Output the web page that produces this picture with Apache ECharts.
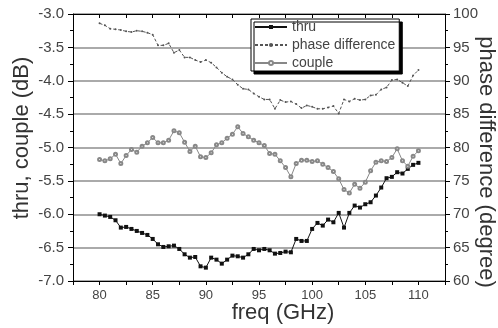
<!DOCTYPE html>
<html>
<head>
<meta charset="utf-8">
<script src="https://cdn.jsdelivr.net/npm/echarts@6/dist/echarts.min.js"></script>
<style>
html,body{margin:0;padding:0;background:#fff;}
#chart{width:498px;height:328px;}
</style>
</head>
<body>
<div id="chart"></div>
<script>
//频率 (GHz)
var freq=[80,80.5,81,81.5,82,82.5,83,83.5,84,84.5,85,85.5,86,86.5,87,87.5,88,88.5,89,89.5,
	90,90.5,91,91.5,92,92.5,93,93.5,94,94.5,95,95.5,96,96.5,97,97.5,98,98.5,99,99.5,
	100,100.5,101,101.5,102,102.5,103,103.5,104,104.5,105,105.5,106,106.5,107,107.5,108,108.5,109,109.5,110];
//thru (dB)
var thru=[-6.00,-6.02,-6.04,-6.09,-6.20,-6.19,-6.22,-6.25,-6.28,-6.31,-6.37,-6.45,-6.49,-6.48,-6.47,-6.52,-6.60,-6.65,-6.64,-6.78,
	-6.80,-6.65,-6.68,-6.74,-6.68,-6.62,-6.63,-6.65,-6.60,-6.52,-6.54,-6.52,-6.54,-6.59,-6.58,-6.56,-6.57,-6.37,-6.40,-6.40,
	-6.22,-6.13,-6.17,-6.08,-6.12,-5.98,-6.20,-5.98,-5.87,-5.90,-5.85,-5.82,-5.72,-5.60,-5.46,-5.44,-5.37,-5.39,-5.32,-5.26,-5.23];
//couple (dB)
var couple=[-5.18,-5.20,-5.17,-5.10,-5.24,-5.12,-5.03,-5.07,-4.98,-4.93,-4.85,-4.93,-4.93,-4.89,-4.75,-4.78,-4.92,-5.06,-4.98,-5.14,
	-5.15,-5.08,-4.96,-4.93,-4.86,-4.80,-4.69,-4.79,-4.84,-4.89,-4.93,-4.97,-5.09,-5.10,-5.20,-5.30,-5.44,-5.24,-5.19,-5.19,
	-5.21,-5.20,-5.25,-5.30,-5.36,-5.47,-5.63,-5.68,-5.55,-5.61,-5.52,-5.35,-5.22,-5.20,-5.21,-5.15,-5.02,-5.20,-5.28,-5.13,-5.05];
//phase difference (degree)
var phase=[98.6,98.3,97.8,97.7,97.6,97.4,97.3,97.5,97.4,97.2,96.9,95.3,95.3,95.6,94.2,94.6,93.5,93.5,93.1,92.8,
	93.1,92.7,92.0,91.2,90.6,90.2,89.4,88.8,88.7,88.1,87.6,87.2,87.2,85.8,87.1,86.8,86.9,86.5,85.9,86.3,
	86.1,85.8,85.8,86.0,86.2,85.1,87.2,86.9,87.3,87.1,87.2,87.8,87.9,88.7,89.0,90.1,90.2,89.7,89.2,90.8,91.6];

var FONT='"Liberation Sans", Arial, sans-serif';

var pairs=function (ys) {
	var out=[];
	for(var i=0;i<freq.length;i++){ out.push([freq[i],ys[i]]); }
	return out;
};

var myChart=echarts.init(document.getElementById('chart'),null,{renderer:'canvas'});
var lineAxis={lineStyle:{color:'#000',width:1}};
var option={
	animation:false,
	backgroundColor:'#fff',
	textStyle:{fontFamily:FONT},
	grid:{left:73,right:53,top:14,bottom:47},
	legend:{
		orient:'vertical',
		left:251,
		top:19,
		data:['thru','phase difference','couple'],
		itemWidth:32,
		itemHeight:5,
		itemGap:4,
		padding:[1,4,1,3],
		backgroundColor:'#fff',
		borderColor:'#000',
		borderWidth:1,
		borderRadius:0,
		shadowColor:'#000',
		shadowBlur:0,
		shadowOffsetX:3,
		shadowOffsetY:3,
		textStyle:{fontFamily:FONT,fontSize:14,lineHeight:14,color:'#444',padding:[0,0,0,0]}
	},
	xAxis:[
		{
			type:'value',position:'bottom',min:77.5,max:112.5,interval:2.5,
			axisLine:lineAxis,
			axisTick:{inside:false,length:4,lineStyle:{color:'#000'}},
			axisLabel:{fontFamily:FONT,fontSize:13,color:'#444',margin:8,
				formatter:function (v) { return (v%5===0&&v>=80&&v<=110)?String(v):''; }},
			splitLine:{show:false}
		},
		{
			type:'value',position:'top',min:77.5,max:112.5,interval:2.5,
			axisLine:lineAxis,
			axisTick:{inside:true,length:4,lineStyle:{color:'#000'}},
			axisLabel:{show:false},
			splitLine:{show:false}
		}
	],
	yAxis:[
		{
			type:'value',position:'left',min:-7,max:-3,interval:0.5,
			axisLine:{show:true,lineStyle:{color:'#000',width:1}},
			axisTick:{show:true,length:5,lineStyle:{color:'#000'}},
			minorTick:{show:true,splitNumber:2,length:3,lineStyle:{color:'#000'}},
			axisLabel:{fontFamily:FONT,fontSize:15,color:'#444',margin:9,
				formatter:function (v) { return v.toFixed(1); }},
			splitLine:{show:true,lineStyle:{color:'#aaa',width:2}}
		},
		{
			type:'value',position:'right',min:60,max:100,interval:5,
			axisLine:{show:true,lineStyle:{color:'#000',width:1}},
			axisTick:{show:true,length:5,lineStyle:{color:'#000'}},
			minorTick:{show:true,splitNumber:2,length:3,lineStyle:{color:'#000'}},
			axisLabel:{fontFamily:FONT,fontSize:15,color:'#444',margin:8},
			splitLine:{show:false}
		}
	],
	//轴标题
	graphic:[
		{type:'text',x:22,y:138,rotation:Math.PI/2,
			style:{text:'thru, couple (dB)',font:'22px '+FONT,fill:'#333',align:'center',verticalAlign:'middle'}},
		{type:'text',x:283,y:313,
			style:{text:'freq (GHz)',font:'22px '+FONT,fill:'#333',align:'center',verticalAlign:'middle'}},
		{type:'text',x:486,y:162,rotation:-Math.PI/2,
			style:{text:'phase difference (degree)',font:'22px '+FONT,fill:'#333',align:'center',verticalAlign:'middle'}}
	],
	series:[
		{
			name:'thru',type:'line',xAxisIndex:0,yAxisIndex:0,
			data:pairs(thru),
			symbol:'rect',symbolSize:4,
			lineStyle:{color:'#111',width:1},
			itemStyle:{color:'#111'}
		},
		{
			name:'phase difference',type:'line',xAxisIndex:0,yAxisIndex:1,
			data:pairs(phase),
			symbol:'circle',symbolSize:2,
			lineStyle:{color:'#555',width:1,type:[3,2]},
			itemStyle:{color:'#555'}
		},
		{
			name:'couple',type:'line',xAxisIndex:0,yAxisIndex:0,
			data:pairs(couple),
			symbol:'emptyCircle',symbolSize:3,
			lineStyle:{color:'#888',width:1},
			itemStyle:{color:'#888',borderColor:'#888',borderWidth:1}
		}
	]
};
myChart.setOption(option);
</script>
</body>
</html>
